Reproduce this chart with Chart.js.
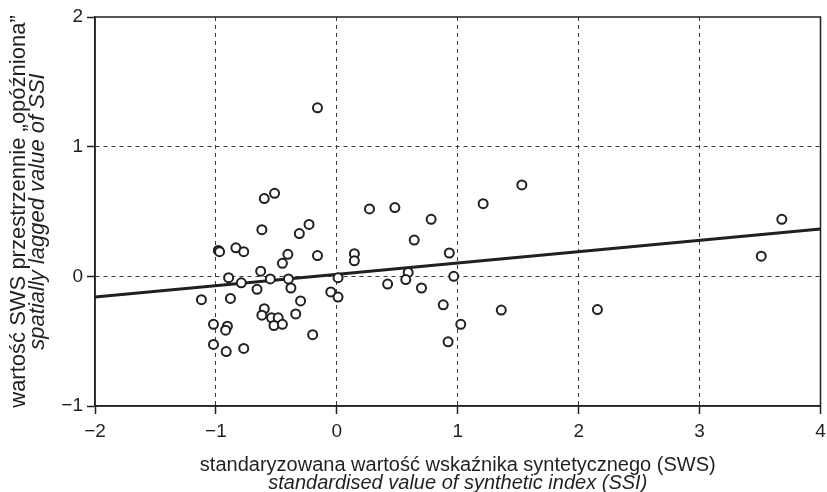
<!DOCTYPE html>
<html>
<head>
<meta charset="utf-8">
<script src="https://cdn.jsdelivr.net/npm/chart.js@4.4.0/dist/chart.umd.min.js"></script>
<style>
    body { margin: 0; background: #fff; }
    #wrap { width: 827px; height: 492px; position: relative; }
</style>
</head>
<body>
<div id="wrap"><canvas id="chart-scatter"></canvas></div>
<script>
// data punkt (SWS, SWS opozniona)
var sws = [-1.12, -0.98, -0.97, -0.835, -0.77, -0.895, -0.79, -0.88, -1.02, -0.905, -0.92, -1.02, -0.915, -0.77,
    -0.60, -0.515, -0.62, -0.63, -0.55, -0.66, -0.60, -0.62, -0.54, -0.485, -0.52, -0.45, -0.34, -0.20,
    -0.31, -0.23, -0.405, -0.45, -0.16, 0.145, 0.145, 0.27, -0.40, 0.01, -0.38, -0.30, -0.05, 0.01, -0.16,
    0.48, 0.78, 1.21, 1.53, 0.64, 0.93, 0.59, 0.57, 0.42, 0.70, 0.967, 0.88, 1.36, 1.025, 0.92,
    2.155, 3.51, 3.68];
var swsLag = [-0.18, 0.20, 0.19, 0.22, 0.19, -0.01, -0.05, -0.17, -0.37, -0.385, -0.415, -0.525, -0.58, -0.556,
    0.60, 0.64, 0.36, 0.04, -0.02, -0.10, -0.25, -0.30, -0.32, -0.32, -0.38, -0.37, -0.29, -0.45,
    0.33, 0.40, 0.17, 0.10, 0.16, 0.175, 0.12, 0.52, -0.02, -0.01, -0.09, -0.19, -0.12, -0.16, 1.30,
    0.53, 0.44, 0.56, 0.705, 0.28, 0.18, 0.03, -0.025, -0.06, -0.09, 0.00, -0.22, -0.26, -0.37, -0.505,
    -0.256, 0.155, 0.44];

// linia regresji
var trendX = [-2, 4];
var trendY = [-0.16, 0.365];

// label sumbu
var xTicks = [-2, -1, 0, 1, 2, 3, 4];
var xTickLabels = ["\u22122", "\u22121", "0", "1", "2", "3", "4"];
var yTicks = [-1, 0, 1, 2];
var yTickLabels = ["\u22121", "0", "1", "2"];

var xTitle = ["standaryzowana wartość wskaźnika syntetycznego (SWS)", "standardised value of synthetic index (SSI)"];
var yTitle = ["wartość SWS przestrzennie „opóźniona”", "spatially lagged value of SSI"];

var ink = "#231f20";
var fontFam = "'Liberation Sans', Arial, sans-serif";

var points = sws.map(function (v, i) { return { x: v, y: swsLag[i] }; });
var trend = trendX.map(function (v, i) { return { x: v, y: trendY[i] }; });

// gambar kotak + judul sumbu
var framePlugin = {
    id: "frame",
    beforeDatasetsDraw: function (chart) {
        var c = chart.ctx, a = chart.chartArea;
        c.save();
        c.strokeStyle = ink;
        c.lineWidth = 1.5;
        c.strokeRect(a.left, a.top, a.right - a.left, a.bottom - a.top);
        c.restore();
    },
    afterDraw: function (chart) {
        var c = chart.ctx, a = chart.chartArea;
        var cx = (a.left + a.right) / 2;
        var cy = (a.top + a.bottom) / 2;
        c.save();
        c.fillStyle = ink;
        c.textAlign = "center";
        c.textBaseline = "alphabetic";
        c.font = "20px " + fontFam;
        c.fillText(xTitle[0], cx, 471);
        c.font = "italic 20px " + fontFam;
        c.fillText(xTitle[1], cx, 489);

        c.translate(0, cy);
        c.rotate(-Math.PI / 2);
        c.font = "22px " + fontFam;
        c.fillText(yTitle[0], 0, 25);
        c.font = "italic 22px " + fontFam;
        c.fillText(yTitle[1], 0, 44);
        c.restore();
    }
};

function gridColor(ticks) {
    return function (ctx) {
        if (!ctx.tick) return "transparent";
        var v = ctx.tick.value;
        if (v === ticks[0] || v === ticks[ticks.length - 1]) return "transparent";
        return "#3a3a3a";
    };
}

new Chart(document.getElementById("chart-scatter"), {
    type: "scatter",
    data: {
        datasets: [{
            type: "line",
            label: "trend",
            data: trend,
            borderColor: ink,
            borderWidth: 3,
            pointRadius: 0,
            fill: false,
            order: 2
        }, {
            label: "SWS",
            data: points,
            pointStyle: "circle",
            pointRadius: 4.5,
            pointBorderWidth: 2,
            borderColor: ink,
            backgroundColor: "#fff",
            order: 1
        }]
    },
    options: {
        responsive: true,
        maintainAspectRatio: false,
        animation: false,
        layout: { padding: { top: 17, right: 3, left: 0, bottom: 0 } },
        plugins: {
            legend: { display: false },
            tooltip: { enabled: false }
        },
        scales: {
            x: {
                type: "linear",
                min: xTicks[0],
                max: xTicks[xTicks.length - 1],
                afterBuildTicks: function (scale) {
                    scale.ticks = xTicks.map(function (v) { return { value: v }; });
                },
                afterFit: function (scale) {
                    scale.height = 86;
                    scale.paddingLeft = 0;
                    scale.paddingRight = 0;
                },
                grid: {
                    color: gridColor(xTicks),
                    lineWidth: 1,
                    drawTicks: true,
                    tickLength: 8,
                    tickColor: ink,
                    tickWidth: 1.5
                },
                border: { display: true, color: ink, width: 1.5, dash: [4, 4] },
                ticks: {
                    padding: 6,
                    color: ink,
                    font: { size: 19, family: fontFam },
                    callback: function (v, i) { return xTickLabels[i]; }
                }
            },
            y: {
                type: "linear",
                min: yTicks[0],
                max: yTicks[yTicks.length - 1],
                afterBuildTicks: function (scale) {
                    scale.ticks = yTicks.map(function (v) { return { value: v }; });
                },
                afterFit: function (scale) {
                    scale.width = 95;
                    scale.paddingTop = 0;
                    scale.paddingBottom = 0;
                },
                grid: {
                    color: gridColor(yTicks),
                    lineWidth: 1,
                    drawTicks: true,
                    tickLength: 8,
                    tickColor: ink,
                    tickWidth: 1.5
                },
                border: { display: true, color: ink, width: 1.5, dash: [4, 4] },
                ticks: {
                    padding: 4,
                    color: ink,
                    font: { size: 19, family: fontFam },
                    callback: function (v, i) { return yTickLabels[i]; }
                }
            }
        }
    },
    plugins: [framePlugin]
});
</script>
</body>
</html>
